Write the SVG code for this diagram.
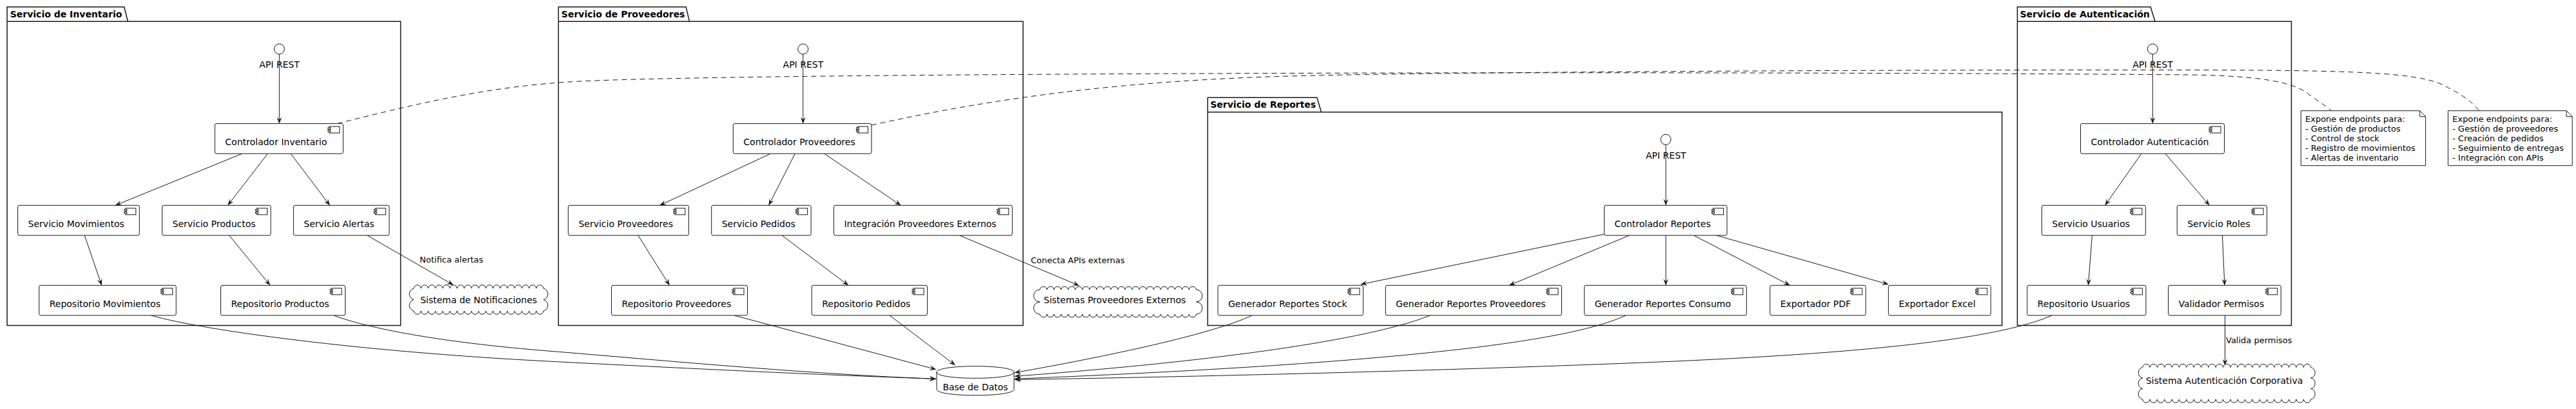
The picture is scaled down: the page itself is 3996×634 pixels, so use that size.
<svg xmlns="http://www.w3.org/2000/svg" xmlns:xlink="http://www.w3.org/1999/xlink" width="3996" height="634" viewBox="0 0 3996 634">
<style>
text{font-family:"DejaVu Sans","Liberation Sans",sans-serif;fill:#000}
.t14{font-size:14px}
.t13{font-size:13px}
.pk{font-size:14px;font-weight:bold}
.pkg{fill:none;stroke:#181818;stroke-width:1.5}
.comp{fill:#fff;stroke:#181818;stroke-width:1}
.ic rect{fill:#fff;stroke:#181818;stroke-width:1}
.ifc{fill:#fff;stroke:#181818;stroke-width:1}
.cloud{fill:#fff;stroke:#181818;stroke-width:1}
.db{fill:#fff;stroke:#181818;stroke-width:1}
.note{fill:#fff;stroke:#181818;stroke-width:1}
.e{fill:none;stroke:#181818;stroke-width:1}
.ea{fill:none;stroke:#181818;stroke-width:1;marker-end:url(#ah)}
.dash{fill:none;stroke:#181818;stroke-width:1;stroke-dasharray:8,6}
</style>
<defs>
<marker id="ah" viewBox="0 0 10 8" refX="10" refY="4" markerWidth="10" markerHeight="8" orient="auto" markerUnits="userSpaceOnUse"><path d="M0,0 L10,4 L0,8 L4,4 Z" fill="#181818"/></marker>
<g id="ci" class="ic"><rect x="0" y="0" width="16" height="10"/><rect x="-2" y="1.7" width="4" height="2.3"/><rect x="-2" y="5.7" width="4" height="2.3"/></g>
</defs>
<rect width="3996" height="634" fill="#fff"/>

<!-- Packages -->
<g id="pkg-inventario">
<path class="pkg" d="M11,33.3 L11,10.7 L192.7,10.7 L198.3,33.3 L621.5,33.3 L621.5,504.5 L11,504.5 Z M11,33.3 L198.3,33.3"/>
<text class="pk" x="15.7" y="26.7">Servicio de Inventario</text>
</g>
<g id="pkg-proveedores">
<path class="pkg" d="M866.3,33.3 L866.3,10.7 L1064.1,10.7 L1069.5,33.3 L1587,33.3 L1587,504.5 L866.3,504.5 Z M866.3,33.3 L1069.5,33.3"/>
<text class="pk" x="870.8" y="26.7">Servicio de Proveedores</text>
</g>
<g id="pkg-reportes">
<path class="pkg" d="M1873.4,173.8 L1873.4,151.2 L2043,151.2 L2049.6,173.8 L3105.6,173.8 L3105.6,504.5 L1873.4,504.5 Z M1873.4,173.8 L2049.6,173.8"/>
<text class="pk" x="1877.5" y="167.2">Servicio de Reportes</text>
</g>
<g id="pkg-autenticacion">
<path class="pkg" d="M3129.4,33.3 L3129.4,10.7 L3336,10.7 L3343,33.3 L3554.5,33.3 L3554.5,504.5 L3129.4,504.5 Z M3129.4,33.3 L3343,33.3"/>
<text class="pk" x="3133.5" y="26.7">Servicio de Autenticación</text>
</g>

<!-- Connectors -->
<g id="connectors">
<!-- Inventario -->
<path class="ea" d="M433.3,84 L433.3,191.6"/>
<path class="ea" d="M375.6,238.2 L178.9,318.3"/>
<path class="ea" d="M415.2,238.2 L353.4,318.3"/>
<path class="ea" d="M451,238.2 L511.7,318.3"/>
<path class="ea" d="M131.2,364.9 L157.7,442.3"/>
<path class="ea" d="M355.6,364.9 L419,442.3"/>
<path class="ea" d="M569.6,364.9 L703.3,441.7"/>
<text class="t13" x="651" y="407.3">Notifica alertas</text>
<path class="ea" d="M234,488.9 C320,513 560,545 850,560 S1300,582 1452,587.3"/>
<path class="ea" d="M517.6,488.9 C580,512 700,532 850,544 S1250,580 1452,587.3"/>
<!-- Proveedores -->
<path class="ea" d="M1245.7,84 L1245.7,191.6"/>
<path class="ea" d="M1195.3,238.2 L1023.4,318.3"/>
<path class="ea" d="M1233.2,238.2 L1192.5,318.3"/>
<path class="ea" d="M1278.7,238.2 L1397.4,318.3"/>
<path class="ea" d="M989.8,364.9 L1038.6,442.3"/>
<path class="ea" d="M1213.1,364.9 L1316.1,442.3"/>
<path class="ea" d="M1488.5,364.9 L1673.9,442.7"/>
<text class="t13" x="1599" y="407.5">Conecta APIs externas</text>
<path class="ea" d="M1138.9,488.9 L1452,572.7"/>
<path class="ea" d="M1380,488.9 L1481.7,566"/>
<!-- Reportes -->
<path class="ea" d="M2584.1,224.3 L2584.1,318.3"/>
<path class="ea" d="M2488.6,363 L2110.8,440.8"/>
<path class="ea" d="M2527.6,364.9 L2341.2,442.3"/>
<path class="ea" d="M2584.1,364.9 L2584.1,442.3"/>
<path class="ea" d="M2627.5,364.9 L2776.6,442.3"/>
<path class="ea" d="M2662.7,364.9 L2929.4,440.8"/>
<path class="ea" d="M1942.3,488.9 C1880,518 1720,552 1574,577.7"/>
<path class="ea" d="M2218.7,488.9 C2140,520 1950,555 1574,583.3"/>
<path class="ea" d="M2522.2,488.9 C2450,522 2250,560 1574,587.3"/>
<!-- Autenticacion -->
<path class="ea" d="M3339.3,84 L3339.3,191.6"/>
<path class="ea" d="M3321.8,238.2 L3265.4,318.3"/>
<path class="ea" d="M3359,238.2 L3427.4,318.3"/>
<path class="ea" d="M3245.4,364.9 L3239.4,442.3"/>
<path class="ea" d="M3447.4,364.9 L3450.9,442.3"/>
<path class="ea" d="M3183,488.9 C3100,525 2900,548 2550,562 S1800,585 1574,588.5"/>
<path class="ea" d="M3451.5,488.9 L3451.5,566.5"/>
<text class="t13" x="3453" y="532.3">Valida permisos</text>
<!-- Note links -->
<path class="dash" d="M523,191.6 C650,160 760,133 900,126 S1500,115 2000,113.5 S3000,113 3400,116 C3520,118 3560,130 3580,145 S3610,165 3616.7,171.7"/>
<path class="dash" d="M1351.9,194 C1550,150 1750,125 2000,118 S3000,108 3400,108.5 C3650,109 3750,112 3790,132 S3835,160 3846,171.7"/>
</g>

<!-- Interfaces -->
<g id="api-inventario"><circle class="ifc" cx="433.3" cy="76" r="8"/><text class="t14" x="433.5" y="105" text-anchor="middle">API REST</text></g>
<g id="api-proveedores"><circle class="ifc" cx="1245.7" cy="76" r="8"/><text class="t14" x="1245.9" y="105" text-anchor="middle">API REST</text></g>
<g id="api-reportes"><circle class="ifc" cx="2584.1" cy="216.3" r="8"/><text class="t14" x="2584.3" y="245.5" text-anchor="middle">API REST</text></g>
<g id="api-autenticacion"><circle class="ifc" cx="3339.3" cy="76" r="8"/><text class="t14" x="3339.5" y="105" text-anchor="middle">API REST</text></g>

<!-- Components: Inventario -->
<g id="ctrl-inventario"><rect class="comp" x="333.3" y="191.6" width="199" height="46.6" rx="2.5"/><use href="#ci" x="510.8" y="196.1"/><text class="t14" x="349.3" y="224.9">Controlador Inventario</text></g>
<g id="serv-movimientos"><rect class="comp" x="27.6" y="318.3" width="188.7" height="46.6" rx="2.5"/><use href="#ci" x="194.8" y="322.8"/><text class="t14" x="43.6" y="351.6">Servicio Movimientos</text></g>
<g id="serv-productos"><rect class="comp" x="251.5" y="318.3" width="168.5" height="46.6" rx="2.5"/><use href="#ci" x="398.5" y="322.8"/><text class="t14" x="267.5" y="351.6">Servicio Productos</text></g>
<g id="serv-alertas"><rect class="comp" x="455.3" y="318.3" width="148.5" height="46.6" rx="2.5"/><use href="#ci" x="582.3" y="322.8"/><text class="t14" x="471.3" y="351.6">Servicio Alertas</text></g>
<g id="repo-movimientos"><rect class="comp" x="60.7" y="442.3" width="212.5" height="46.6" rx="2.5"/><use href="#ci" x="251.7" y="446.8"/><text class="t14" x="76.7" y="475.6">Repositorio Movimientos</text></g>
<g id="repo-productos"><rect class="comp" x="342.5" y="442.3" width="193" height="46.6" rx="2.5"/><use href="#ci" x="514" y="446.8"/><text class="t14" x="358.5" y="475.6">Repositorio Productos</text></g>

<!-- Components: Proveedores -->
<g id="ctrl-proveedores"><rect class="comp" x="1137.3" y="191.6" width="214.6" height="46.6" rx="2.5"/><use href="#ci" x="1330.4" y="196.1"/><text class="t14" x="1153.3" y="224.9">Controlador Proveedores</text></g>
<g id="serv-proveedores"><rect class="comp" x="881.4" y="318.3" width="187" height="46.6" rx="2.5"/><use href="#ci" x="1046.9" y="322.8"/><text class="t14" x="897.4" y="351.6">Servicio Proveedores</text></g>
<g id="serv-pedidos"><rect class="comp" x="1103.7" y="318.3" width="154.4" height="46.6" rx="2.5"/><use href="#ci" x="1236.6" y="322.8"/><text class="t14" x="1119.7" y="351.6">Servicio Pedidos</text></g>
<g id="integracion-proveedores"><rect class="comp" x="1293.4" y="318.3" width="276.9" height="46.6" rx="2.5"/><use href="#ci" x="1548.8" y="322.8"/><text class="t14" x="1309.4" y="351.6">Integración Proveedores Externos</text></g>
<g id="repo-proveedores"><rect class="comp" x="948.6" y="442.3" width="210.9" height="46.6" rx="2.5"/><use href="#ci" x="1138" y="446.8"/><text class="t14" x="964.6" y="475.6">Repositorio Proveedores</text></g>
<g id="repo-pedidos"><rect class="comp" x="1259.2" y="442.3" width="179.4" height="46.6" rx="2.5"/><use href="#ci" x="1417.1" y="446.8"/><text class="t14" x="1275.2" y="475.6">Repositorio Pedidos</text></g>

<!-- Components: Reportes -->
<g id="ctrl-reportes"><rect class="comp" x="2488.6" y="318.3" width="190.4" height="46.6" rx="2.5"/><use href="#ci" x="2657.5" y="322.8"/><text class="t14" x="2504.6" y="351.6">Controlador Reportes</text></g>
<g id="gen-stock"><rect class="comp" x="1889.2" y="442.3" width="225.4" height="46.6" rx="2.5"/><use href="#ci" x="2093.1" y="446.8"/><text class="t14" x="1905.2" y="475.6">Generador Reportes Stock</text></g>
<g id="gen-proveedores"><rect class="comp" x="2149.3" y="442.3" width="273.2" height="46.6" rx="2.5"/><use href="#ci" x="2401" y="446.8"/><text class="t14" x="2165.3" y="475.6">Generador Reportes Proveedores</text></g>
<g id="gen-consumo"><rect class="comp" x="2457.7" y="442.3" width="251.6" height="46.6" rx="2.5"/><use href="#ci" x="2687.8" y="446.8"/><text class="t14" x="2473.7" y="475.6">Generador Reportes Consumo</text></g>
<g id="exp-pdf"><rect class="comp" x="2745.7" y="442.3" width="148.5" height="46.6" rx="2.5"/><use href="#ci" x="2872.7" y="446.8"/><text class="t14" x="2761.7" y="475.6">Exportador PDF</text></g>
<g id="exp-excel"><rect class="comp" x="2929.4" y="442.3" width="158.8" height="46.6" rx="2.5"/><use href="#ci" x="3066.7" y="446.8"/><text class="t14" x="2945.4" y="475.6">Exportador Excel</text></g>

<!-- Components: Autenticacion -->
<g id="ctrl-autenticacion"><rect class="comp" x="3227.5" y="191.6" width="223" height="46.6" rx="2.5"/><use href="#ci" x="3429" y="196.1"/><text class="t14" x="3243.5" y="224.9">Controlador Autenticación</text></g>
<g id="serv-usuarios"><rect class="comp" x="3167.3" y="318.3" width="161" height="46.6" rx="2.5"/><use href="#ci" x="3306.8" y="322.8"/><text class="t14" x="3183.3" y="351.6">Servicio Usuarios</text></g>
<g id="serv-roles"><rect class="comp" x="3377.2" y="318.3" width="139.4" height="46.6" rx="2.5"/><use href="#ci" x="3495.1" y="322.8"/><text class="t14" x="3393.2" y="351.6">Servicio Roles</text></g>
<g id="repo-usuarios"><rect class="comp" x="3144.6" y="442.3" width="184.3" height="46.6" rx="2.5"/><use href="#ci" x="3307.4" y="446.8"/><text class="t14" x="3160.6" y="475.6">Repositorio Usuarios</text></g>
<g id="validador-permisos"><rect class="comp" x="3363.5" y="442.3" width="174.8" height="46.6" rx="2.5"/><use href="#ci" x="3516.8" y="446.8"/><text class="t14" x="3379.5" y="475.6">Validador Permisos</text></g>

<!-- Clouds -->
<g id="cloud-notificaciones">
<path class="cloud" d="M642,447 a5.6,5.6 0 0 1 11.17,0 a5.6,5.6 0 0 1 11.17,0 a5.6,5.6 0 0 1 11.17,0 a5.6,5.6 0 0 1 11.17,0 a5.6,5.6 0 0 1 11.17,0 a5.6,5.6 0 0 1 11.17,0 a5.6,5.6 0 0 1 11.17,0 a5.6,5.6 0 0 1 11.17,0 a5.6,5.6 0 0 1 11.17,0 a5.6,5.6 0 0 1 11.17,0 a5.6,5.6 0 0 1 11.17,0 a5.6,5.6 0 0 1 11.17,0 a5.6,5.6 0 0 1 11.17,0 a5.6,5.6 0 0 1 11.17,0 a5.6,5.6 0 0 1 11.17,0 a5.6,5.6 0 0 1 11.17,0 a5.6,5.6 0 0 1 11.17,0 a5.6,5.6 0 0 1 11.17,0 a9,9 0 0 1 0,17.5 a9,9 0 0 1 0,17.5 a5.6,5.6 0 0 1 -11.17,0 a5.6,5.6 0 0 1 -11.17,0 a5.6,5.6 0 0 1 -11.17,0 a5.6,5.6 0 0 1 -11.17,0 a5.6,5.6 0 0 1 -11.17,0 a5.6,5.6 0 0 1 -11.17,0 a5.6,5.6 0 0 1 -11.17,0 a5.6,5.6 0 0 1 -11.17,0 a5.6,5.6 0 0 1 -11.17,0 a5.6,5.6 0 0 1 -11.17,0 a5.6,5.6 0 0 1 -11.17,0 a5.6,5.6 0 0 1 -11.17,0 a5.6,5.6 0 0 1 -11.17,0 a5.6,5.6 0 0 1 -11.17,0 a5.6,5.6 0 0 1 -11.17,0 a5.6,5.6 0 0 1 -11.17,0 a5.6,5.6 0 0 1 -11.17,0 a5.6,5.6 0 0 1 -11.17,0 a9,9 0 0 1 0,-17.5 a9,9 0 0 1 0,-17.5 Z"/>
<text class="t14" x="742.5" y="470" text-anchor="middle">Sistema de Notificaciones</text>
</g>
<g id="cloud-proveedores-externos">
<path class="cloud" d="M1613,449 a5.6,5.6 0 0 1 11.03,0 a5.6,5.6 0 0 1 11.03,0 a5.6,5.6 0 0 1 11.03,0 a5.6,5.6 0 0 1 11.03,0 a5.6,5.6 0 0 1 11.03,0 a5.6,5.6 0 0 1 11.03,0 a5.6,5.6 0 0 1 11.03,0 a5.6,5.6 0 0 1 11.03,0 a5.6,5.6 0 0 1 11.03,0 a5.6,5.6 0 0 1 11.03,0 a5.6,5.6 0 0 1 11.03,0 a5.6,5.6 0 0 1 11.03,0 a5.6,5.6 0 0 1 11.03,0 a5.6,5.6 0 0 1 11.03,0 a5.6,5.6 0 0 1 11.03,0 a5.6,5.6 0 0 1 11.03,0 a5.6,5.6 0 0 1 11.03,0 a5.6,5.6 0 0 1 11.03,0 a5.6,5.6 0 0 1 11.03,0 a5.6,5.6 0 0 1 11.03,0 a5.6,5.6 0 0 1 11.03,0 a5.6,5.6 0 0 1 11.03,0 a9,9 0 0 1 0,19 a9,9 0 0 1 0,19 a5.6,5.6 0 0 1 -11.03,0 a5.6,5.6 0 0 1 -11.03,0 a5.6,5.6 0 0 1 -11.03,0 a5.6,5.6 0 0 1 -11.03,0 a5.6,5.6 0 0 1 -11.03,0 a5.6,5.6 0 0 1 -11.03,0 a5.6,5.6 0 0 1 -11.03,0 a5.6,5.6 0 0 1 -11.03,0 a5.6,5.6 0 0 1 -11.03,0 a5.6,5.6 0 0 1 -11.03,0 a5.6,5.6 0 0 1 -11.03,0 a5.6,5.6 0 0 1 -11.03,0 a5.6,5.6 0 0 1 -11.03,0 a5.6,5.6 0 0 1 -11.03,0 a5.6,5.6 0 0 1 -11.03,0 a5.6,5.6 0 0 1 -11.03,0 a5.6,5.6 0 0 1 -11.03,0 a5.6,5.6 0 0 1 -11.03,0 a5.6,5.6 0 0 1 -11.03,0 a5.6,5.6 0 0 1 -11.03,0 a5.6,5.6 0 0 1 -11.03,0 a5.6,5.6 0 0 1 -11.03,0 a9,9 0 0 1 0,-19 a9,9 0 0 1 0,-19 Z"/>
<text class="t14" x="1729.3" y="469.5" text-anchor="middle">Sistemas Proveedores Externos</text>
</g>
<g id="cloud-autenticacion-corporativa">
<path class="cloud" d="M3323.7,569.5 a5.7,5.7 0 0 1 11.35,0 a5.7,5.7 0 0 1 11.35,0 a5.7,5.7 0 0 1 11.35,0 a5.7,5.7 0 0 1 11.35,0 a5.7,5.7 0 0 1 11.35,0 a5.7,5.7 0 0 1 11.35,0 a5.7,5.7 0 0 1 11.35,0 a5.7,5.7 0 0 1 11.35,0 a5.7,5.7 0 0 1 11.35,0 a5.7,5.7 0 0 1 11.35,0 a5.7,5.7 0 0 1 11.35,0 a5.7,5.7 0 0 1 11.35,0 a5.7,5.7 0 0 1 11.35,0 a5.7,5.7 0 0 1 11.35,0 a5.7,5.7 0 0 1 11.35,0 a5.7,5.7 0 0 1 11.35,0 a5.7,5.7 0 0 1 11.35,0 a5.7,5.7 0 0 1 11.35,0 a5.7,5.7 0 0 1 11.35,0 a5.7,5.7 0 0 1 11.35,0 a5.7,5.7 0 0 1 11.35,0 a5.7,5.7 0 0 1 11.35,0 a5.7,5.7 0 0 1 11.35,0 a8.5,8.5 0 0 1 0,16.5 a8.5,8.5 0 0 1 0,16.5 a8.5,8.5 0 0 1 0,16.5 a5.7,5.7 0 0 1 -11.35,0 a5.7,5.7 0 0 1 -11.35,0 a5.7,5.7 0 0 1 -11.35,0 a5.7,5.7 0 0 1 -11.35,0 a5.7,5.7 0 0 1 -11.35,0 a5.7,5.7 0 0 1 -11.35,0 a5.7,5.7 0 0 1 -11.35,0 a5.7,5.7 0 0 1 -11.35,0 a5.7,5.7 0 0 1 -11.35,0 a5.7,5.7 0 0 1 -11.35,0 a5.7,5.7 0 0 1 -11.35,0 a5.7,5.7 0 0 1 -11.35,0 a5.7,5.7 0 0 1 -11.35,0 a5.7,5.7 0 0 1 -11.35,0 a5.7,5.7 0 0 1 -11.35,0 a5.7,5.7 0 0 1 -11.35,0 a5.7,5.7 0 0 1 -11.35,0 a5.7,5.7 0 0 1 -11.35,0 a5.7,5.7 0 0 1 -11.35,0 a5.7,5.7 0 0 1 -11.35,0 a5.7,5.7 0 0 1 -11.35,0 a5.7,5.7 0 0 1 -11.35,0 a5.7,5.7 0 0 1 -11.35,0 a8.5,8.5 0 0 1 0,-16.5 a8.5,8.5 0 0 1 0,-16.5 a8.5,8.5 0 0 1 0,-16.5 Z"/>
<text class="t14" x="3450.5" y="595" text-anchor="middle">Sistema Autenticación Corporativa</text>
</g>

<!-- Database -->
<g id="base-de-datos">
<path class="db" d="M1453,577 C1453,564.6 1573,564.6 1573,577 L1573,603.5 C1573,615.9 1453,615.9 1453,603.5 Z"/>
<path class="e" d="M1453,577 C1453,589.4 1573,589.4 1573,577"/>
<text class="t14" x="1513" y="605.3" text-anchor="middle">Base de Datos</text>
</g>

<!-- Notes -->
<g id="note-inventario">
<path class="note" d="M3569.3,171.7 L3753.7,171.7 L3762.7,180.7 L3762.7,256.7 L3569.3,256.7 Z"/>
<path class="e" d="M3753.7,171.7 L3753.7,180.7 L3762.7,180.7"/>
<text class="t13" x="3576" y="188.5">Expone endpoints para:</text>
<text class="t13" x="3576" y="203.5">- Gestión de productos</text>
<text class="t13" x="3576" y="218.6">- Control de stock</text>
<text class="t13" x="3576" y="233.6">- Registro de movimientos</text>
<text class="t13" x="3576" y="248.7">- Alertas de inventario</text>
</g>
<g id="note-proveedores">
<path class="note" d="M3797.6,171.7 L3981.2,171.7 L3990.2,180.7 L3990.2,256.7 L3797.6,256.7 Z"/>
<path class="e" d="M3981.2,171.7 L3981.2,180.7 L3990.2,180.7"/>
<text class="t13" x="3804.3" y="188.5">Expone endpoints para:</text>
<text class="t13" x="3804.3" y="203.5">- Gestión de proveedores</text>
<text class="t13" x="3804.3" y="218.6">- Creación de pedidos</text>
<text class="t13" x="3804.3" y="233.6">- Seguimiento de entregas</text>
<text class="t13" x="3804.3" y="248.7">- Integración con APIs</text>
</g>
</svg>
